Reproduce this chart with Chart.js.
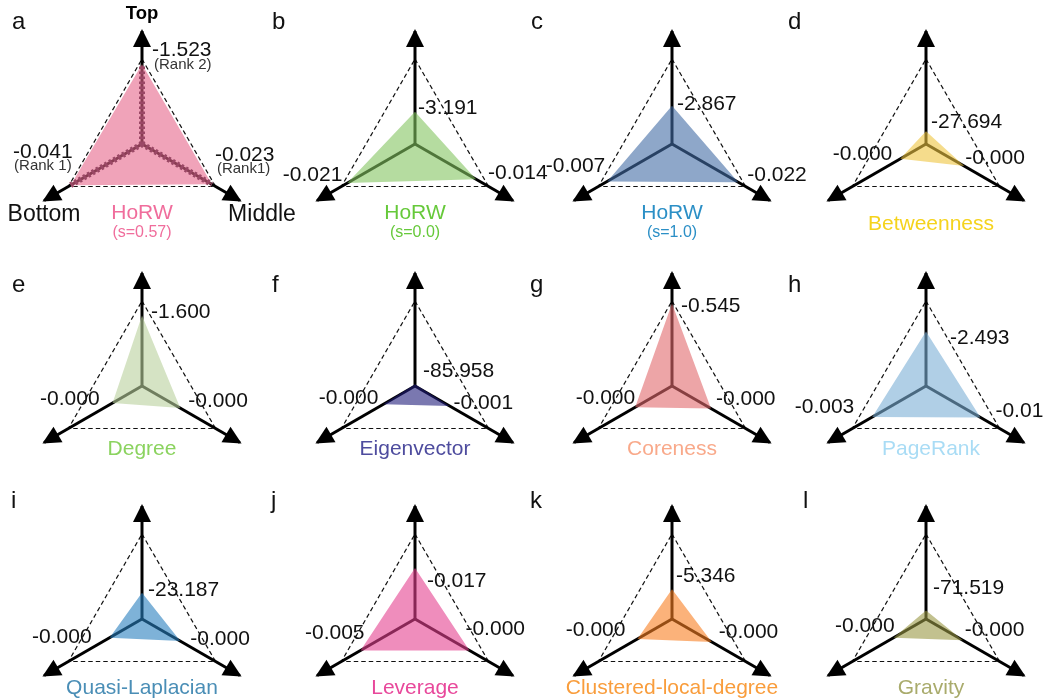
<!DOCTYPE html>
<html>
<head>
<meta charset="utf-8">
<script src="https://cdn.jsdelivr.net/npm/chart.js@4.4.0/dist/chart.umd.min.js"></script>
<style>
  html, body { margin: 0; padding: 0; background: #fff; }
  #fig { position: relative; width: 1044px; height: 700px; overflow: hidden;
         font-family: "Liberation Sans", Arial, sans-serif; }
  #fig canvas { position: absolute; }
  .txt { position: absolute; transform: translate(-50%, -50%); white-space: nowrap; line-height: 1; }
  .letter { position: absolute; transform: translateY(-50%); font-size: 24px; line-height: 1; color: #111; }
</style>
</head>
<body>
<div id="fig"></div>
<script>
const panelLetters = ["a", "b", "c", "d", "e", "f", "g", "h", "i", "j", "k", "l"];
const methodNames = ["HoRW", "HoRW", "HoRW", "Betweenness", "Degree", "Eigenvector",
  "Coreness", "PageRank", "Quasi-Laplacian", "Leverage", "Clustered-local-degree", "Gravity"];
const methodNotes = ["(s=0.57)", "(s=0.0)", "(s=1.0)", "", "", "", "", "", "", "", "", ""];
const axisNames = ["Top", "Middle", "Bottom"];

// normalised radius on each axis (dashed triangle = 1)
const topValues = [0.94, 0.38, 0.45, 0.15, 0.83, 0.02, 0.97, 0.64, 0.31, 0.60, 0.35, 0.10];
const middleValues = [0.95, 0.83, 0.90, 0.52, 0.52, 0.47, 0.53, 0.74, 0.52, 0.74, 0.54, 0.50];
const bottomValues = [0.97, 0.92, 0.88, 0.35, 0.40, 0.43, 0.50, 0.73, 0.44, 0.74, 0.47, 0.44];

// printed scores
const topLabels = ["-1.523", "-3.191", "-2.867", "-27.694", "-1.600", "-85.958",
  "-0.545", "-2.493", "-23.187", "-0.017", "-5.346", "-71.519"];
const middleLabels = ["-0.023", "-0.014", "-0.022", "-0.000", "-0.000", "-0.001",
  "-0.000", "-0.01", "-0.000", "-0.000", "-0.000", "-0.000"];
const bottomLabels = ["-0.041", "-0.021", "-0.007", "-0.000", "-0.000", "-0.000",
  "-0.000", "-0.003", "-0.000", "-0.005", "-0.000", "-0.000"];
const rankNotes = ["(Rank 2)", "(Rank1)", "(Rank 1)"];

const fillColors = [
  "rgba(230,102,138,0.6)", "rgba(132,197,97,0.6)", "rgba(67,108,165,0.6)", "rgba(238,197,63,0.6)",
  "rgba(185,208,157,0.6)", "rgba(33,30,123,0.6)", "rgba(225,105,108,0.6)", "rgba(123,175,213,0.6)",
  "rgba(40,127,190,0.6)", "rgba(228,65,143,0.6)", "rgba(248,127,33,0.6)", "rgba(153,152,68,0.6)"
];
const titleColors = ["#f06d9c", "#66c93a", "#2b8fc6", "#f5d31c", "#8bd35f", "#4e4c9e",
  "#f9a98a", "#a9dcf5", "#4a8eb6", "#e8489b", "#f99d3c", "#a9ab6c"];

// layout
const colX = [142, 415, 672, 926];
const rowY = [144, 386, 619];
const letterX = [[12, 272, 531, 788], [12, 272, 530, 788], [11, 271, 530, 803]];
const letterY = [21, 284, 500];
const titleY = [211, 447, 686];
const R = 113;
const CW = 300, CH = 260;
// text offsets from each data point: [top], [middle], [bottom]
const labelOffsets = [
  [[10, -14], [3, -29], [2, -33]], [[3, -4], [12, -6], [-5, -8]], [[5, -2], [9, -7], [-2, -15]],
  [[5, -9], [1, -8], [-8, -5]], [[9, -3], [8, -7], [-13, -4]], [[8, -13], [4, -3], [-5, -6]],
  [[9, 3], [5, -9], [0, -9]], [[24, 7], [15, -6], [-18, -10]], [[6, -2], [10, -2], [-18, 0]],
  [[12, 13], [-4, -21], [4, -17]], [[4, -13], [7, -10], [-12, -9]], [[7, -22], [2, -10], [1, -11]]
];

const fig = document.getElementById("fig");

function addText(text, x, y, style) {
  const d = document.createElement("div");
  d.className = "txt";
  d.textContent = text;
  d.style.left = x + "px";
  d.style.top = y + "px";
  Object.assign(d.style, style);
  fig.appendChild(d);
}

function makeOverlay(idx) {
  return {
    id: "overlay" + idx,
    afterDatasetsDraw(chart) {
      const s = chart.scales.r;
      const ctx = chart.ctx;
      const vals = [topValues[idx], middleValues[idx], bottomValues[idx]];
      const texts = [topLabels[idx], middleLabels[idx], bottomLabels[idx]];
      ctx.save();

      // ladder-style axes for panel a
      if (idx === 0) {
        ctx.strokeStyle = "#9b4866";
        ctx.lineWidth = 6;
        ctx.setLineDash([2.5, 2.5]);
        for (let i = 0; i < 3; i++) {
          const p = s.getPointPositionForValue(i, vals[i]);
          ctx.beginPath();
          ctx.moveTo(s.xCenter, s.yCenter);
          ctx.lineTo(p.x, p.y);
          ctx.stroke();
        }
        ctx.setLineDash([]);
      }

      // arrow heads at the end of each axis
      ctx.fillStyle = "#000";
      for (let i = 0; i < 3; i++) {
        const tip = s.getPointPositionForValue(i, s.max);
        const dx = tip.x - s.xCenter, dy = tip.y - s.yCenter;
        const len = Math.hypot(dx, dy);
        const ux = dx / len, uy = dy / len;
        const bx = tip.x - ux * 16, by = tip.y - uy * 16;
        ctx.beginPath();
        ctx.moveTo(tip.x + ux * 2, tip.y + uy * 2);
        ctx.lineTo(bx - uy * 9, by + ux * 9);
        ctx.lineTo(bx + uy * 9, by - ux * 9);
        ctx.closePath();
        ctx.fill();
      }

      // score labels
      ctx.fillStyle = "#111";
      ctx.textBaseline = "middle";
      for (let i = 0; i < 3; i++) {
        const p = s.getPointPositionForValue(i, vals[i]);
        const off = labelOffsets[idx][i];
        const x = p.x + off[0], y = p.y + off[1];
        ctx.textAlign = i === 2 ? "right" : "left";
        ctx.font = '21px "Liberation Sans", Arial, sans-serif';
        ctx.fillText(texts[i], x, y);
        if (idx === 0) {
          ctx.font = '15px "Liberation Sans", Arial, sans-serif';
          ctx.fillStyle = "#333";
          ctx.fillText(rankNotes[i], x + (i === 2 ? -1 : 2), y + (i === 0 ? 15 : 14));
          ctx.fillStyle = "#111";
        }
      }
      ctx.restore();
    }
  };
}

panelLetters.forEach((letter, idx) => {
  const row = Math.floor(idx / 4), col = idx % 4;
  const cx = colX[col], cy = rowY[row];

  const canvas = document.createElement("canvas");
  canvas.width = CW;
  canvas.height = CH;
  canvas.style.left = (cx - CW / 2) + "px";
  canvas.style.top = (cy - CH / 2) + "px";
  fig.appendChild(canvas);

  new Chart(canvas.getContext("2d"), {
    type: "radar",
    data: {
      labels: axisNames,
      datasets: [{
        data: [topValues[idx], middleValues[idx], bottomValues[idx]],
        backgroundColor: fillColors[idx],
        borderWidth: 0,
        pointRadius: 0,
        fill: true,
      }],
    },
    options: {
      responsive: false,
      animation: false,
      layout: { padding: { left: CW / 2 - R, right: CW / 2 - R, top: CH / 2 - R, bottom: CH / 2 - R } },
      plugins: { legend: { display: false }, tooltip: { enabled: false } },
      scales: {
        r: {
          min: 0,
          max: 1.33,
          ticks: { display: false },
          pointLabels: { display: false },
          angleLines: { color: "#000", lineWidth: 3 },
          grid: { color: "#111", lineWidth: 1.2 },
          border: { dash: [4.5, 3] },
          afterBuildTicks: (scale) => { scale.ticks = [{ value: 0 }, { value: 1 }]; },
        },
      },
    },
    plugins: [makeOverlay(idx)],
  });

  // panel letter
  const l = document.createElement("div");
  l.className = "letter";
  l.textContent = letter;
  l.style.left = letterX[row][col] + "px";
  l.style.top = letterY[row] + "px";
  fig.appendChild(l);

  // method name
  const note = methodNotes[idx];
  const ty = row === 0 && !note ? titleY[row] + 11 : titleY[row];
  addText(methodNames[idx], cx + (col === 3 ? 5 : 0), ty, { fontSize: "21px", color: titleColors[idx] });
  if (note) addText(note, cx, ty + 21, { fontSize: "16px", color: titleColors[idx] });
});

// axis names of panel a
addText(axisNames[0], colX[0], 13, { fontSize: "18.5px", fontWeight: "bold", color: "#000" });
addText(axisNames[2], 44, 213, { fontSize: "23px", color: "#111" });
addText(axisNames[1], 262, 213, { fontSize: "23px", color: "#111" });
</script>
</body>
</html>
